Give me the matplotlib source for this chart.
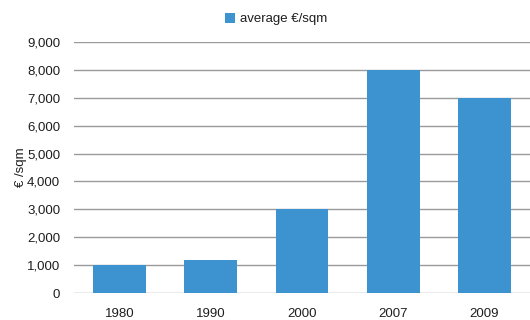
import numpy as np
import matplotlib.pyplot as plt
from matplotlib.ticker import FuncFormatter

plt.rcParams['font.family'] = ['Liberation Sans', 'DejaVu Sans']

years = ['1980', '1990', '2000', '2007', '2009']
avg_price = [1000, 1200, 3000, 8000, 7000]

bar_color = '#3d92d0'
text_color = '#1e1e1e'

fig = plt.figure(figsize=(5.3, 3.2), dpi=100)
ax = fig.add_axes([74/530, 1 - 293/320, (530 - 74)/530, (293 - 42)/320])

x = np.arange(len(years))
ax.bar(x, avg_price, width=0.58, color=bar_color, label='average €/sqm', zorder=3)

ax.set_xlim(-0.5, len(years) - 0.5)
ax.set_ylim(0, 9000)
ax.set_yticks(np.arange(0, 9001, 1000))
ax.yaxis.set_major_formatter(FuncFormatter(lambda v, p: f'{int(v):,}'))
ax.set_xticks(x)
ax.set_xticklabels(years)
ax.grid(axis='y', color='#9a9a9a', linewidth=1, zorder=0)
for s in ax.spines.values():
    s.set_visible(False)
ax.tick_params(axis='both', length=0, labelsize=9.5, colors=text_color)
ax.tick_params(axis='y', pad=10)
ax.tick_params(axis='x', pad=11)
ax.set_ylabel('€ /sqm', fontsize=9.5, color=text_color, labelpad=0)

leg = fig.legend(loc='center', bbox_to_anchor=(276/530, 1 - 19/320), frameon=False,
                 prop={'size': 9.5}, handlelength=0.8, handleheight=0.8,
                 handletextpad=0.35, borderpad=0)
for t in leg.get_texts():
    t.set_color(text_color)

fig.savefig('out.png', dpi=100)
